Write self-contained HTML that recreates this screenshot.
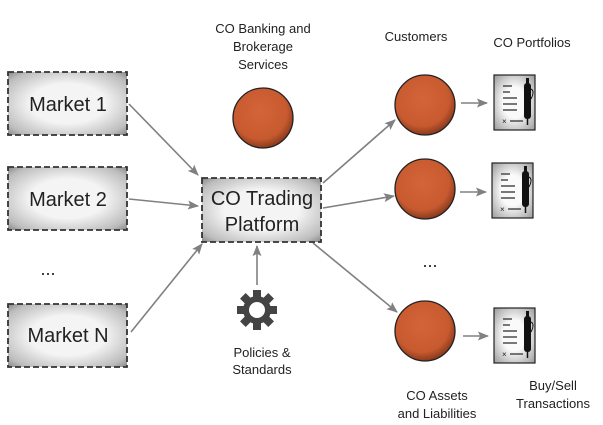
<!DOCTYPE html>
<html><head><meta charset="utf-8"><style>
body{margin:0;background:#fff}
svg{display:block}
text{font-family:"Liberation Sans",sans-serif;fill:#222}
</style></head><body>
<svg width="603" height="425" viewBox="0 0 603 425" xmlns="http://www.w3.org/2000/svg">
<defs>
<radialGradient id="bx" cx="50%" cy="50%" r="70%">
<stop offset="0.45" stop-color="#f4f4f4"/><stop offset="0.85" stop-color="#bdbdbd"/><stop offset="1" stop-color="#8a8a8a"/>
</radialGradient>
<radialGradient id="ci" cx="45%" cy="40%" r="60%">
<stop offset="0" stop-color="#d46438"/><stop offset="0.75" stop-color="#c85a30"/><stop offset="1" stop-color="#8a3a1c"/>
</radialGradient>
<radialGradient id="dc" cx="50%" cy="50%" r="70%">
<stop offset="0.4" stop-color="#fafafa"/><stop offset="1" stop-color="#9a9a9a"/>
</radialGradient>
<marker id="ar" viewBox="0 0 10 10" refX="9" refY="5" markerWidth="7" markerHeight="7" orient="auto">
<path d="M0,1 L10,5 L0,9 L2,5 z" fill="#808080"/></marker>
<g id="doc">
<rect x="0" y="0" width="41" height="55" fill="url(#dc)" stroke="#222" stroke-width="1.2"/>
<g stroke="#333" stroke-width="1.3"><line x1="9" y1="11" x2="18" y2="11"/><line x1="9" y1="17" x2="16" y2="17"/><line x1="9" y1="23" x2="23" y2="23"/><line x1="9" y1="29" x2="23" y2="29"/><line x1="9" y1="35" x2="23" y2="35"/><line x1="16" y1="46" x2="29" y2="46"/></g>
<text x="8" y="49" font-size="8" style="fill:#222">×</text>
<rect x="30" y="8" width="7" height="36" rx="3" fill="#111"/>
<rect x="32" y="3" width="3" height="6" fill="#111"/>
<line x1="33.5" y1="44" x2="33.5" y2="50" stroke="#111" stroke-width="1.5"/>
<path d="M37,14 q4,2 0,10" fill="none" stroke="#111"/>
</g>
</defs>

<!-- connectors -->
<g stroke="#808080" stroke-width="1.6" fill="none" marker-end="url(#ar)">
<line x1="129" y1="104" x2="198" y2="175"/>
<line x1="129" y1="199" x2="198" y2="206"/>
<line x1="131" y1="332" x2="202" y2="244"/>
<line x1="257" y1="285" x2="257" y2="246"/>
<line x1="323" y1="183" x2="395" y2="120"/>
<line x1="323" y1="208" x2="394" y2="196"/>
<line x1="313" y1="243" x2="397" y2="312"/>
<line x1="461" y1="103" x2="487" y2="103"/>
<line x1="460" y1="192" x2="486" y2="192"/>
<line x1="463" y1="336" x2="488" y2="336"/>
</g>

<!-- market boxes -->
<g stroke="#333" stroke-width="1.8" stroke-dasharray="6,3" fill="url(#bx)">
<rect x="8" y="72" width="119" height="63"/>
<rect x="8" y="167" width="119" height="63"/>
<rect x="8" y="304" width="119" height="63"/>
<rect x="202" y="178" width="119" height="64"/>
</g>
<g font-size="20" text-anchor="middle">
<text x="68" y="111">Market 1</text>
<text x="68" y="206">Market 2</text>
<text x="68" y="342">Market N</text>
<text x="262" y="205">CO Trading</text>
<text x="262" y="231">Platform</text>
</g>
<text x="48" y="275" font-size="18" text-anchor="middle">...</text>
<text x="430" y="267" font-size="18" text-anchor="middle">...</text>

<!-- circles -->
<g stroke="#222" stroke-width="1.3" fill="url(#ci)">
<circle cx="263" cy="118" r="30"/>
<circle cx="425" cy="105" r="30"/>
<circle cx="425" cy="189" r="30"/>
<circle cx="425" cy="331" r="30"/>
</g>

<use href="#doc" x="494" y="75"/>
<use href="#doc" x="492" y="163"/>
<use href="#doc" x="494" y="308"/>

<!-- gear -->
<g transform="translate(257,310)">
<g fill="#444">
<circle r="14"/>
<rect x="-4" y="-20" width="8" height="9" transform="rotate(0)"/>
<rect x="-4" y="-20" width="8" height="9" transform="rotate(45)"/>
<rect x="-4" y="-20" width="8" height="9" transform="rotate(90)"/>
<rect x="-4" y="-20" width="8" height="9" transform="rotate(135)"/>
<rect x="-4" y="-20" width="8" height="9" transform="rotate(180)"/>
<rect x="-4" y="-20" width="8" height="9" transform="rotate(225)"/>
<rect x="-4" y="-20" width="8" height="9" transform="rotate(270)"/>
<rect x="-4" y="-20" width="8" height="9" transform="rotate(315)"/>
</g>
<circle r="8" fill="#fff"/>
</g>

<g font-size="13" text-anchor="middle">
<text x="263" y="33">CO Banking and</text>
<text x="263" y="51">Brokerage</text>
<text x="263" y="69">Services</text>
<text x="416" y="41">Customers</text>
<text x="532" y="47">CO Portfolios</text>
<text x="262" y="357">Policies &amp;</text>
<text x="262" y="374">Standards</text>
<text x="437" y="400">CO Assets</text>
<text x="437" y="418">and Liabilities</text>
<text x="553" y="390">Buy/Sell</text>
<text x="553" y="408">Transactions</text>
</g>
</svg>
</body></html>
